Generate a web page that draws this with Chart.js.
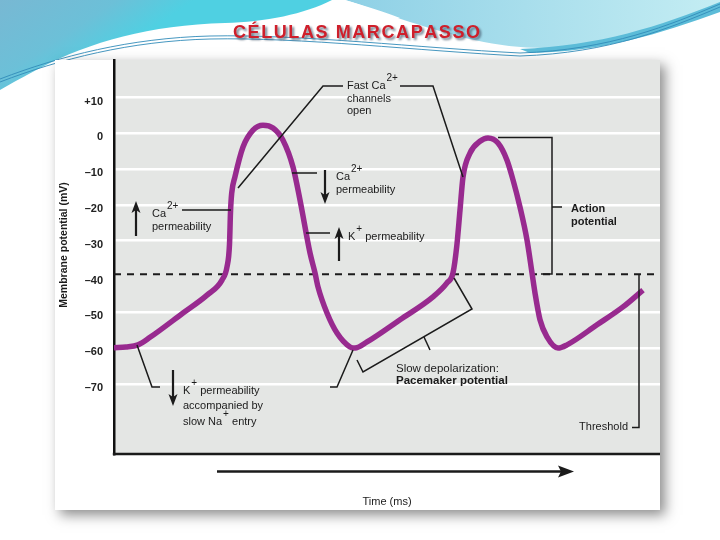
<!DOCTYPE html>
<html><head><meta charset="utf-8">
<script src="https://cdn.jsdelivr.net/npm/chart.js@4"></script>
<style>html,body{margin:0;padding:0;background:#fff;}canvas{display:block}</style>
</head><body>
<canvas id="c" width="720" height="540"></canvas>
<script>
// ---- data (time in arbitrary ms units, membrane potential in mV) ----
const timeMs = [0, 12, 24, 36, 69, 93, 108, 113, 115.5, 116.5, 117.7, 121, 129, 139, 149, 159, 169, 179, 186, 196, 201, 204, 213, 223, 236, 241, 253, 286, 319, 333, 339, 342.7, 346, 349, 356, 366, 374, 384, 393, 399, 406, 413, 418, 421, 426, 433, 444, 453, 483, 509, 529];
const membraneMv = [-59.9, -59.7, -59.1, -57.0, -50.2, -45.2, -41.0, -37.3, -31.0, -22.0, -16.7, -12.1, -3.8, 0.9, 2.3, 1.5, -1.9, -9.4, -18.6, -33.4, -39.0, -42.9, -50.2, -55.8, -59.7, -60.0, -58.3, -52.1, -45.7, -41.8, -39.0, -31.7, -21.5, -12.2, -5.5, -2.2, -1.3, -2.7, -7.5, -13.0, -20.6, -29.8, -39.0, -44.6, -52.1, -56.9, -60.0, -59.1, -53.5, -48.5, -43.8];
const thresholdMv = -39.4;
const yTickValues = [10, 0, -10, -20, -30, -40, -50, -60, -70];
const yTickLabels = ['+10', '0', '\u201310', '\u201320', '\u201330', '\u201340', '\u201350', '\u201360', '\u201370'];
const xRange = [0, 546];
const yRange = [-89.6, 20.5];
const titleText = 'CÉLULAS MARCAPASSO';

const FONT = '"Liberation Sans", Arial, Helvetica, sans-serif';
const INK = '#1b1b1b';

function drawBackground(ctx) {
  ctx.save();
  ctx.fillStyle = '#ffffff';
  ctx.fillRect(0, 0, 720, 540);
  // left blue swoosh
  let g = ctx.createLinearGradient(0, 0, 60, 90);
  g.addColorStop(0, '#78b8d3');
  g.addColorStop(0.6, '#6cc0d8');
  g.addColorStop(1, '#4fd0e2');
  ctx.fillStyle = g;
  ctx.beginPath();
  ctx.moveTo(0, 0); ctx.lineTo(332, 0);
  ctx.bezierCurveTo(305, 14, 265, 22, 225, 23);
  ctx.bezierCurveTo(150, 25, 90, 42, 40, 68);
  ctx.bezierCurveTo(25, 76, 10, 84, 0, 90);
  ctx.closePath(); ctx.fill();
  // right light cyan region
  g = ctx.createLinearGradient(330, 0, 720, 0);
  g.addColorStop(0, '#8ccfe5');
  g.addColorStop(1, '#c4edf3');
  ctx.fillStyle = g;
  ctx.beginPath();
  ctx.moveTo(345, 0); ctx.lineTo(720, 0); ctx.lineTo(720, 6);
  ctx.bezierCurveTo(660, 28, 600, 46, 545, 48);
  ctx.bezierCurveTo(495, 48, 455, 36, 410, 22);
  ctx.bezierCurveTo(385, 14, 365, 6, 345, 0);
  ctx.closePath(); ctx.fill();
  // white sliver near top
  ctx.fillStyle = '#ffffff';
  ctx.beginPath();
  ctx.moveTo(345, 0); ctx.bezierCurveTo(365, 6, 385, 12, 400, 18);
  ctx.lineTo(396, 19); ctx.bezierCurveTo(380, 13, 362, 7, 338, 2); ctx.closePath(); ctx.fill();
  // darker blue band on right
  ctx.fillStyle = '#5cbcd8';
  ctx.beginPath();
  ctx.moveTo(520, 49);
  ctx.bezierCurveTo(600, 46, 660, 26, 720, 2);
  ctx.lineTo(720, 12);
  ctx.bezierCurveTo(660, 34, 600, 52, 530, 53);
  ctx.closePath(); ctx.fill();
  // thin lines
  ctx.strokeStyle = 'rgba(50,140,185,0.9)';
  ctx.lineWidth = 1;
  for (let k = 0; k < 2; k++) {
    const o = k * 3;
    ctx.beginPath();
    ctx.moveTo(0, 79 + o);
    ctx.bezierCurveTo(60, 56 + o, 130, 38 + o, 210, 36 + o);
    ctx.bezierCurveTo(300, 34 + o, 420, 48 + o, 520, 53 + o);
    ctx.bezierCurveTo(610, 50 + o, 670, 25 + o, 720, 4 + o);
    ctx.stroke();
  }
  // title
  ctx.font = 'bold 18px ' + FONT;
  ctx.textBaseline = 'alphabetic';
  ctx.textAlign = 'left';
  const chars = Array.from(titleText);
  const widths = chars.map(c => ctx.measureText(c).width);
  const natural = widths.reduce((a, b) => a + b, 0);
  const target = 247;
  const sp = (target - natural) / (chars.length - 1);
  const draw = (dx, dy, col) => {
    let x = 233 + dx;
    ctx.fillStyle = col;
    chars.forEach((c, i) => { ctx.fillText(c, x, 38 + dy); x += widths[i] + sp; });
  };
  ctx.save();
  ctx.filter = 'blur(0.8px)';
  draw(2, 2, 'rgba(70,90,110,0.75)');
  ctx.restore();
  draw(0, 0, '#cf1f2b');
  // panel with shadow
  ctx.save();
  ctx.shadowColor = 'rgba(0,0,0,0.45)';
  ctx.shadowBlur = 12; ctx.shadowOffsetX = 5; ctx.shadowOffsetY = 5;
  ctx.fillStyle = '#ffffff';
  ctx.fillRect(55, 60, 605, 450);
  ctx.restore();
  ctx.restore();
}

function line(ctx, pts, w) {
  ctx.beginPath();
  ctx.moveTo(pts[0][0], pts[0][1]);
  for (let i = 1; i < pts.length; i++) ctx.lineTo(pts[i][0], pts[i][1]);
  ctx.lineWidth = w || 1.5;
  ctx.strokeStyle = INK;
  ctx.stroke();
}
function arrowV(ctx, x, y1, y2) {
  const dir = y2 > y1 ? 1 : -1;
  const hl = 12, hw = 4.5;
  line(ctx, [[x, y1], [x, y2 - dir * hl * 0.6]], 2.2);
  ctx.beginPath();
  ctx.moveTo(x, y2);
  ctx.lineTo(x - hw, y2 - dir * hl);
  ctx.lineTo(x, y2 - dir * hl * 0.75);
  ctx.lineTo(x + hw, y2 - dir * hl);
  ctx.closePath();
  ctx.fillStyle = INK; ctx.fill();
}
function rich(ctx, x, y, parts, size, align) {
  size = size || 11;
  ctx.textBaseline = 'middle';
  ctx.textAlign = 'left';
  const fontOf = p => (p.b ? 'bold ' : '') + (p.s ? 10 : size) + 'px ' + FONT;
  let total = 0;
  parts.forEach(p => { ctx.font = fontOf(p); p.w = ctx.measureText(p.t).width + (p.s ? 1 : 0); total += p.w; });
  let cx = align === 'right' ? x - total : x;
  ctx.fillStyle = INK;
  parts.forEach(p => { ctx.font = fontOf(p); ctx.fillText(p.t, cx + (p.s ? 1 : 0), p.s ? y - 7.5 : y); cx += p.w; });
}

const bgPlugin = {
  id: 'bg',
  beforeDraw(chart) {
    const ctx = chart.ctx, a = chart.chartArea;
    drawBackground(ctx);
    ctx.save();
    ctx.fillStyle = '#e4e6e4';
    ctx.fillRect(a.left, a.top, a.right - a.left, a.bottom - a.top);
    ctx.restore();
  }
};

const notePlugin = {
  id: 'notes',
  afterDraw(chart) {
    const ctx = chart.ctx, a = chart.chartArea;
    ctx.save();
    ctx.lineCap = 'butt'; ctx.lineJoin = 'miter';
    // bottom axis line
    line(ctx, [[a.left - 1.2, a.bottom], [a.right, a.bottom]], 2.5);
    // time arrow
    line(ctx, [[217, 471.5], [562, 471.5]], 2.6);
    ctx.beginPath(); ctx.moveTo(574, 471.5); ctx.lineTo(558, 465.5); ctx.lineTo(561, 471.5); ctx.lineTo(558, 477.5); ctx.closePath();
    ctx.fillStyle = INK; ctx.fill();
    ctx.font = '11px ' + FONT; ctx.fillStyle = INK; ctx.textAlign = 'center'; ctx.textBaseline = 'middle';
    ctx.fillText('Time (ms)', 387, 502);
    // y axis title
    ctx.save();
    ctx.translate(64, 245); ctx.rotate(-Math.PI / 2);
    ctx.font = 'bold 10.5px ' + FONT; ctx.textAlign = 'center'; ctx.textBaseline = 'middle';
    ctx.fillText('Membrane potential (mV)', 0, 0);
    ctx.restore();

    // Fast Ca2+ channels open
    rich(ctx, 347, 86, [{t: 'Fast Ca'}, {t: '2+', s: 1}]);
    rich(ctx, 347, 98.5, [{t: 'channels'}]);
    rich(ctx, 347, 111, [{t: 'open'}]);
    line(ctx, [[343, 86], [323, 86], [238, 188]]);
    line(ctx, [[400, 86], [433, 86], [463, 177]]);

    // middle Ca2+ permeability (down)
    arrowV(ctx, 325, 170, 204);
    rich(ctx, 336, 177, [{t: 'Ca'}, {t: '2+', s: 1}]);
    rich(ctx, 336, 189.5, [{t: 'permeability'}]);
    line(ctx, [[292, 173], [317, 173]]);

    // K+ permeability (up)
    arrowV(ctx, 339, 261, 227);
    rich(ctx, 348, 237, [{t: 'K'}, {t: '+', s: 1}, {t: ' permeability'}]);
    line(ctx, [[306, 233], [330, 233]]);

    // left Ca2+ permeability (up)
    arrowV(ctx, 136, 236, 201);
    rich(ctx, 152, 214, [{t: 'Ca'}, {t: '2+', s: 1}]);
    rich(ctx, 152, 226.5, [{t: 'permeability'}]);
    line(ctx, [[182, 210], [231, 210]]);

    // bottom-left K+ permeability accompanied by slow Na+ entry
    arrowV(ctx, 173, 370, 406);
    rich(ctx, 183, 391, [{t: 'K'}, {t: '+', s: 1}, {t: ' permeability'}]);
    rich(ctx, 183, 406, [{t: 'accompanied by'}]);
    rich(ctx, 183, 421.5, [{t: 'slow Na'}, {t: '+', s: 1}, {t: ' entry'}]);
    line(ctx, [[137, 345], [152, 387], [160, 387]]);

    // trough leader
    line(ctx, [[353, 350], [337, 387], [330, 387]]);

    // pacemaker bracket
    line(ctx, [[357, 360], [363, 372], [472, 309], [454, 278]]);
    line(ctx, [[424, 337], [430, 350]]);
    rich(ctx, 396, 368.5, [{t: 'Slow depolarization:'}], 11.5);
    rich(ctx, 396, 381, [{t: 'Pacemaker potential', b: 1}], 11.5);

    // action potential bracket
    line(ctx, [[498, 137.5], [552, 137.5], [552, 274], [541, 274]]);
    line(ctx, [[552, 207], [562, 207]]);
    rich(ctx, 571, 208.5, [{t: 'Action', b: 1}]);
    rich(ctx, 571, 221.5, [{t: 'potential', b: 1}]);

    // threshold bracket
    line(ctx, [[639, 274], [639, 427.5], [632, 427.5]]);
    rich(ctx, 628, 427, [{t: 'Threshold'}], 11, 'right');
    ctx.restore();
  }
};

new Chart(document.getElementById('c'), {
  type: 'line',
  data: {
    datasets: [
      {
        label: 'Membrane potential',
        data: timeMs.map((t, i) => ({x: t, y: membraneMv[i]})),
        borderColor: '#982a8f',
        borderWidth: 5.5,
        pointRadius: 0,
        cubicInterpolationMode: 'monotone',
        borderCapStyle: 'butt',
        fill: false
      },
      {
        label: 'Threshold',
        data: [{x: xRange[0], y: thresholdMv}, {x: xRange[1], y: thresholdMv}],
        borderColor: '#1b1b1b',
        borderWidth: 2,
        borderDash: [7, 6],
        pointRadius: 0,
        fill: false
      }
    ]
  },
  options: {
    responsive: false,
    animation: false,
    layout: {padding: {top: 60, right: 60, bottom: 86, left: 0}},
    plugins: {legend: {display: false}, tooltip: {enabled: false}},
    scales: {
      x: {type: 'linear', min: xRange[0], max: xRange[1], display: false},
      y: {
        type: 'linear', min: yRange[0], max: yRange[1],
        afterBuildTicks: s => { s.ticks = yTickValues.map(v => ({value: v})); },
        afterFit: s => { s.width = 114; },
        grid: {
          color: c => (c.tick && c.tick.value === -40) ? 'rgba(0,0,0,0)' : '#ffffff',
          lineWidth: 2.5, drawTicks: false
        },
        border: {display: true, color: '#111111', width: 2.5},
        ticks: {
          padding: 11, color: '#222222', labelOffset: 4,
          font: {family: '"Liberation Sans", Arial, sans-serif', size: 11, weight: 'bold'},
          callback: v => yTickLabels[yTickValues.indexOf(v)]
        }
      }
    }
  },
  plugins: [bgPlugin, notePlugin]
});
</script>
</body></html>
